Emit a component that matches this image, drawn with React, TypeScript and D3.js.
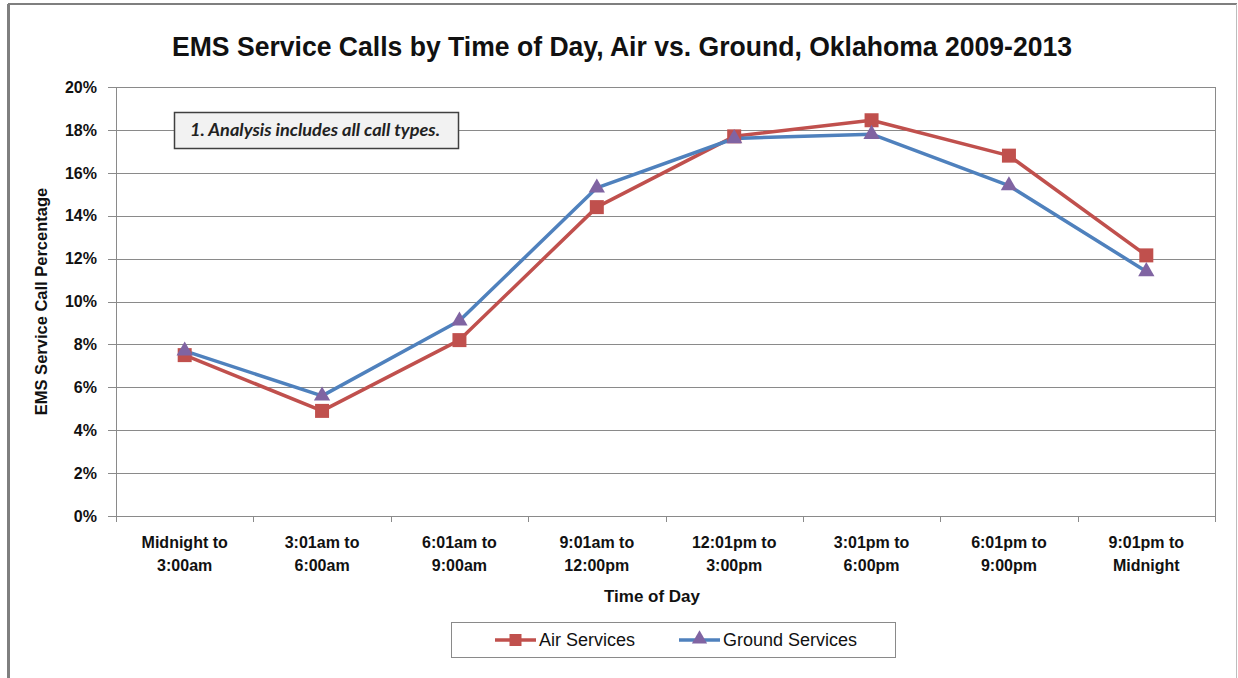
import React from 'react'
import * as d3 from 'd3'

const categories = [
  ['Midnight to', '3:00am'],
  ['3:01am to', '6:00am'],
  ['6:01am to', '9:00am'],
  ['9:01am to', '12:00pm'],
  ['12:01pm to', '3:00pm'],
  ['3:01pm to', '6:00pm'],
  ['6:01pm to', '9:00pm'],
  ['9:01pm to', 'Midnight']
]
const airValues = [7.5, 4.9, 8.2, 14.4, 17.7, 18.45, 16.8, 12.15]
const groundValues = [7.7, 5.6, 9.1, 15.3, 17.6, 17.8, 15.4, 11.4]
const yTicks = [0, 2, 4, 6, 8, 10, 12, 14, 16, 18, 20]

const W = 1238
const H = 678
const plot = { left: 116, right: 1215, top: 87, bottom: 516 }
const gridColor = '#8a8a8a'
const airColor = '#c0504d'
const groundLine = '#4f81bd'
const groundMarker = '#8064a2'
const font = 'Liberation Sans, Arial, sans-serif'

const App = () => {
  const x = d3
    .scaleBand<number>()
    .domain(d3.range(categories.length))
    .range([plot.left, plot.right])
  const y = d3.scaleLinear().domain([0, 20]).range([plot.bottom, plot.top])
  const cx = (i: number) => (x(i) as number) + x.bandwidth() / 2

  const line = d3
    .line<number>()
    .x((d, i) => cx(i))
    .y(d => y(d))

  const square = d3.symbol().type(d3.symbolSquare).size(196)()
  const triangle = d3.symbol().type(d3.symbolTriangle).size(115)()
  const legSquare = d3.symbol().type(d3.symbolSquare).size(144)()
  const legTriangle = d3.symbol().type(d3.symbolTriangle).size(100)()

  const boundaries = d3.range(categories.length + 1).map(i =>
    i < categories.length ? (x(i) as number) : plot.right
  )

  return (
    <svg
      width={W}
      height={H}
      style={{ position: 'absolute', left: 0, top: 0, background: '#fff' }}
      fontFamily={font}
    >
      {/* outer chart frame */}
      <line x1={8} y1={4} x2={1237} y2={4} stroke="#7f7f7f" strokeWidth={2} />
      <line x1={8.5} y1={4} x2={8.5} y2={H} stroke="#7f7f7f" strokeWidth={3} />
      <line x1={1236.5} y1={4} x2={1236.5} y2={H} stroke="#bdbdbd" strokeWidth={1} />

      <text
        x={622}
        y={56}
        textAnchor="middle"
        fontSize={28}
        fontWeight="bold"
        fill="#111"
        textLength={900}
        lengthAdjust="spacingAndGlyphs"
      >
        EMS Service Calls by Time of Day, Air vs. Ground, Oklahoma 2009-2013
      </text>

      {/* gridlines + y axis */}
      {yTicks.map(t => (
        <g key={t}>
          <line x1={plot.left - 8} x2={plot.right} y1={Math.round(y(t)) + 0.5} y2={Math.round(y(t)) + 0.5} stroke={gridColor} strokeWidth={1} />
          <text x={97} y={y(t)} dy="0.36em" textAnchor="end" fontSize={16} fontWeight="bold" fill="#111">
            {t}%
          </text>
        </g>
      ))}
      <line x1={plot.left + 0.5} x2={plot.left + 0.5} y1={plot.top} y2={plot.bottom} stroke={gridColor} />
      <line x1={plot.right + 0.5} x2={plot.right + 0.5} y1={plot.top} y2={plot.bottom} stroke={gridColor} />

      {/* x axis ticks and labels */}
      {boundaries.map((b, i) => (
        <line key={i} x1={Math.round(b) + 0.5} x2={Math.round(b) + 0.5} y1={plot.bottom} y2={plot.bottom + 6} stroke={gridColor} />
      ))}
      {categories.map((c, i) => (
        <text key={i} x={cx(i)} textAnchor="middle" fontSize={16} fontWeight="bold" fill="#111">
          <tspan x={cx(i)} y={548}>{c[0]}</tspan>
          <tspan x={cx(i)} y={571}>{c[1]}</tspan>
        </text>
      ))}

      <text x={652} y={602} textAnchor="middle" fontSize={17} fontWeight="bold" fill="#111">
        Time of Day
      </text>
      <text
        transform={`translate(47, ${(plot.top + plot.bottom) / 2}) rotate(-90)`}
        textAnchor="middle"
        fontSize={16.5}
        fontWeight="bold"
        fill="#111"
      >
        EMS Service Call Percentage
      </text>

      {/* note box */}
      <rect x={174.5} y={112.5} width={284} height={36} fill="#f2f2f2" stroke="#404040" strokeWidth={1.5} />
      <text
        x={315}
        y={136}
        textAnchor="middle"
        fontSize={16.5}
        fontStyle="italic"
        fontWeight="bold"
        fontFamily="Lato, Open Sans, sans-serif"
        fill="#222"
        textLength={250}
        lengthAdjust="spacingAndGlyphs"
      >
        1. Analysis  includes all call types.
      </text>

      {/* series */}
      <path d={line(airValues) as string} fill="none" stroke={airColor} strokeWidth={3.5} strokeLinejoin="round" />
      <path d={line(groundValues) as string} fill="none" stroke={groundLine} strokeWidth={3.5} strokeLinejoin="round" />
      {airValues.map((v, i) => (
        <path key={'a' + i} d={square as string} transform={`translate(${cx(i)},${y(v)})`} fill={airColor} />
      ))}
      {groundValues.map((v, i) => (
        <path key={'g' + i} d={triangle as string} transform={`translate(${cx(i)},${y(v)})`} fill={groundMarker} />
      ))}

      {/* legend */}
      <rect x={451.5} y={622.5} width={444} height={35} fill="#fff" stroke="#8a8a8a" />
      <line x1={495} x2={536} y1={640} y2={640} stroke={airColor} strokeWidth={3.5} />
      <path d={legSquare as string} transform="translate(515.5,640)" fill={airColor} />
      <text x={539} y={646} fontSize={18} fill="#111">Air Services</text>
      <line x1={679} x2={720} y1={640} y2={640} stroke={groundLine} strokeWidth={3.5} />
      <path d={legTriangle as string} transform="translate(699.5,639)" fill={groundMarker} />
      <text x={723} y={646} fontSize={18} fill="#111">Ground Services</text>
    </svg>
  )
}

export default App
